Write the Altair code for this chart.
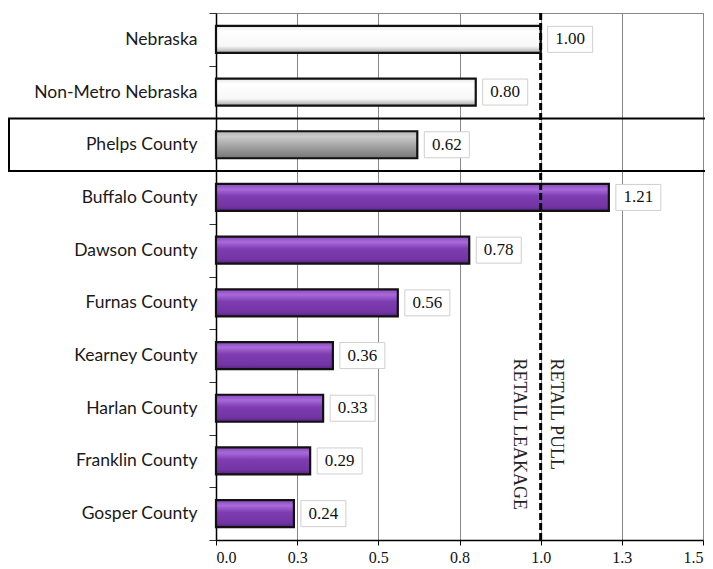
import altair as alt
import pandas as pd

categories = ["Nebraska", "Non-Metro Nebraska", "Phelps County", "Buffalo County",
              "Dawson County", "Furnas County", "Kearney County", "Harlan County",
              "Franklin County", "Gosper County"]
values = [1.00, 0.80, 0.62, 1.21, 0.78, 0.56, 0.36, 0.33, 0.29, 0.24]
groups = ["state", "state", "focus", "peer", "peer", "peer", "peer", "peer", "peer", "peer"]
tick_values = [0, 0.25, 0.5, 0.75, 1.0, 1.25, 1.5]
ref_value = 1.0
left_note = "RETAIL LEAKAGE"
right_note = "RETAIL PULL"
highlight = "Phelps County"

df = pd.DataFrame({"area": categories, "value": values, "group": groups})
df["label"] = df["value"].map(lambda v: f"{v:.2f}")

W, H = 487, 527

y_enc = alt.Y("area:N", sort=categories,
              scale=alt.Scale(domain=categories, paddingInner=0, paddingOuter=0),
              axis=alt.Axis(title=None, labelFont="Lato", labelFontSize=17.5, labelColor="#1a1a1a",
                            tickBand="extent", tickSize=7, tickColor="#333", domainColor="#000",
                            domainWidth=1.5, labelPadding=12, grid=False))
x_enc = alt.X("value:Q", scale=alt.Scale(domain=[0, 1.5], nice=False, zero=True),
              axis=alt.Axis(title=None, values=tick_values, format=".1f",
                            labelFont="Liberation Serif", labelFontSize=16, labelColor="#111",
                            tickSize=5, tickColor="#000", grid=True, gridColor="#888",
                            domainColor="#000", domainWidth=1.5, labelPadding=4))


def grad(stops):
    return alt.Gradient(gradient="linear", x1=0, x2=0, y1=0, y2=1,
                        stops=[alt.GradientStop(color=c, offset=o) for o, c in stops])


fills = {
    "state": grad([(0, "#e6e6e6"), (0.2, "#ffffff"), (0.75, "#f7f7f7"), (1, "#a8a8a8")]),
    "focus": grad([(0, "#b5b5b5"), (0.2, "#cbcbcb"), (0.5, "#a9a9a9"), (1, "#767676")]),
    "peer": grad([(0, "#8a48bf"), (0.2, "#a86ad9"), (0.45, "#7e3db2"), (0.85, "#7234a3"), (1, "#55227f")]),
}

base = alt.Chart(df)
bar_layers = []
for g in ["state", "focus", "peer"]:
    bar_layers.append(
        base.transform_filter(alt.datum.group == g)
        .mark_bar(size=27, fill=fills[g], stroke="#111", strokeWidth=2.2)
        .encode(x=x_enc, y=y_enc)
    )

boxes = base.mark_bar(size=26, xOffset=7, x2Offset=52, fill="white",
                      stroke="#cfcfcf", strokeWidth=1).encode(
    x=x_enc, x2=alt.X2("value"), y=y_enc)

labels = base.mark_text(xOffset=29.5, font="Liberation Serif", fontSize=17,
                        align="center", baseline="middle", color="#111").encode(
    x=x_enc, y=y_enc, text="label:N")

ref_df = pd.DataFrame({"value": [ref_value]})
ref_rule = alt.Chart(ref_df).mark_rule(color="black", strokeWidth=3,
                                       strokeDash=[7, 3]).encode(x=x_enc)

notes_df = pd.DataFrame({"value": [ref_value, ref_value], "area": ["Kearney County", "Kearney County"],
                         "t": [left_note, right_note], "side": ["l", "r"]})
note_l = alt.Chart(notes_df).transform_filter(alt.datum.side == "l").mark_text(
    angle=90, align="left", baseline="middle", xOffset=-22, yOffset=3,
    font="Liberation Serif", fontSize=18, color="#222").encode(x=x_enc, y=y_enc, text="t:N")
note_r = alt.Chart(notes_df).transform_filter(alt.datum.side == "r").mark_text(
    angle=90, align="left", baseline="middle", xOffset=15, yOffset=3,
    font="Liberation Serif", fontSize=18, color="#222").encode(x=x_enc, y=y_enc, text="t:N")

hl = base.transform_filter(alt.datum.area == highlight).mark_rect(
    fillOpacity=0, stroke="black", strokeWidth=2).encode(
    x=alt.value(-207), x2=alt.value(W + 4), y=y_enc)

chart = alt.layer(*bar_layers, ref_rule, boxes, labels, note_l, note_r, hl).properties(
    width=W, height=H,
    autosize=alt.AutoSizeParams(type="none"),
    padding={"left": 208, "top": 5, "right": 2, "bottom": 28},
).configure_view(stroke="#888", strokeWidth=1)

chart.save("out.html", embed_options={"renderer": "svg", "actions": False})
